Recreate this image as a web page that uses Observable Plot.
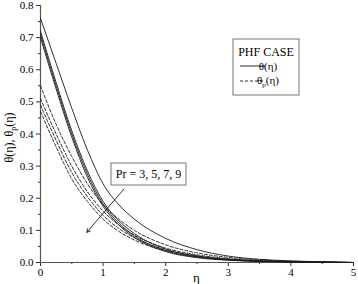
<!DOCTYPE html>
<html><head><meta charset="utf-8">
<script src="https://cdn.jsdelivr.net/npm/d3@7"></script>
<script src="https://cdn.jsdelivr.net/npm/@observablehq/plot@0.6"></script>
<style>
body{margin:0;background:#fff}
#chart svg, #chart svg text, #chart svg tspan{font-family:'Liberation Serif','Tinos','Times New Roman','DejaVu Serif',serif !important}
</style>
</head><body><div id="chart"></div>
<script>
// ---- data ----
const eta = [0, 0.25, 0.5, 0.75, 1, 1.25, 1.5, 2, 2.5, 3, 3.5, 4, 4.5, 5];
const Pr = [3, 5, 7, 9];
// theta(eta), solid lines
const theta_Pr3 = [0.76, 0.62, 0.48, 0.35, 0.245, 0.18, 0.135, 0.075, 0.04, 0.02, 0.01, 0.005, 0.002, 0];
const theta_Pr5 = [0.72, 0.56, 0.41, 0.285, 0.19, 0.13, 0.09, 0.042, 0.02, 0.01, 0.005, 0.002, 0.001, 0];
const theta_Pr7 = [0.71, 0.55, 0.40, 0.275, 0.182, 0.123, 0.083, 0.037, 0.017, 0.008, 0.004, 0.002, 0.001, 0];
const theta_Pr9 = [0.70, 0.54, 0.39, 0.265, 0.175, 0.117, 0.078, 0.034, 0.015, 0.007, 0.003, 0.001, 0, 0];
// theta_p(eta), dashed lines
const thetaP_Pr3 = [0.55, 0.43, 0.33, 0.245, 0.18, 0.135, 0.10, 0.055, 0.03, 0.016, 0.008, 0.004, 0.002, 0];
const thetaP_Pr5 = [0.51, 0.40, 0.30, 0.22, 0.16, 0.117, 0.085, 0.045, 0.024, 0.012, 0.006, 0.003, 0.001, 0];
const thetaP_Pr7 = [0.49, 0.38, 0.28, 0.205, 0.147, 0.106, 0.077, 0.04, 0.021, 0.01, 0.005, 0.002, 0.001, 0];
const thetaP_Pr9 = [0.47, 0.36, 0.26, 0.19, 0.135, 0.097, 0.07, 0.036, 0.018, 0.009, 0.004, 0.002, 0.001, 0];

const xTicks = [0, 1, 2, 3, 4, 5];
const xMinorTicks = [0.5, 1.5, 2.5, 3.5, 4.5];
const yTicks = [0, 0.1, 0.2, 0.3, 0.4, 0.5, 0.6, 0.7, 0.8];
const yMinorTicks = [0.05, 0.15, 0.25, 0.35, 0.45, 0.55, 0.65, 0.75];

const annotationText = "Pr = 3, 5, 7, 9";
const legendTitle = "PHF CASE";
// annotation arrow, in data units (eta, theta)
const arrowFrom = [1.33, 0.228];
const arrowTo = [0.74, 0.094];

// ---- build tables ----
const solidSeries = [theta_Pr3, theta_Pr5, theta_Pr7, theta_Pr9];
const dashSeries = [thetaP_Pr3, thetaP_Pr5, thetaP_Pr7, thetaP_Pr9];
const solidRows = [], dashRows = [];
solidSeries.forEach((s, k) => s.forEach((v, i) => solidRows.push({eta: eta[i], v, Pr: Pr[k]})));
dashSeries.forEach((s, k) => s.forEach((v, i) => dashRows.push({eta: eta[i], v, Pr: Pr[k]})));

const ink = "#1a1a1a";
const serif = "'Liberation Serif', 'Times New Roman', serif";
const plot = Plot.plot({
  width: 358, height: 284,
  marginLeft: 40, marginRight: 5, marginTop: 5, marginBottom: 22,
  style: {fontSize: "11px", color: "#000", background: "#fff", overflow: "visible"},
  x: {domain: [0, 5]},
  y: {domain: [0, 0.8]},
  marks: [
    Plot.axisY(yMinorTicks, {tickSize: 2, tickFormat: () => "", label: null, stroke: "#333"}),
    Plot.axisY(yTicks, {tickSize: 4, tickPadding: 3, tickFormat: d3.format(".1f"), label: null, fontSize: 11, stroke: "#333"}),
    Plot.axisX(xMinorTicks, {tickSize: 2, tickFormat: () => "", label: null, stroke: "#333"}),
    Plot.axisX(xTicks, {tickSize: 4, tickPadding: 2, tickFormat: d3.format("d"), label: null, fontSize: 11, stroke: "#333"}),
    Plot.ruleX([0], {stroke: "#555", strokeWidth: 1.2}),
    Plot.ruleY([0], {stroke: "#555", strokeWidth: 1.2}),
    Plot.line(dashRows, {x: "eta", y: "v", z: "Pr", stroke: ink, strokeWidth: 0.9, strokeDasharray: "3,2", curve: "monotone-x"}),
    Plot.line(solidRows, {x: "eta", y: "v", z: "Pr", stroke: ink, strokeWidth: 0.9, curve: "monotone-x"}),
    Plot.arrow([{x1: arrowFrom[0], y1: arrowFrom[1], x2: arrowTo[0], y2: arrowTo[1]}],
      {x1: "x1", y1: "y1", x2: "x2", y2: "y2", stroke: ink, strokeWidth: 0.9, headLength: 6, bend: 0})
  ]
});
document.getElementById("chart").appendChild(plot);

// ---- labels, annotation box, legend ----
const svg = d3.select(plot);
const sx = plot.scale("x"), sy = plot.scale("y");
const txt = (sel) => sel.attr("fill", "#000");

// y axis title
const yt = txt(svg.append("text"))
  .attr("transform", `translate(13,${(sy.apply(0) + sy.apply(0.8)) / 2 + 4}) rotate(-90)`)
  .attr("text-anchor", "middle").attr("font-size", 12);
yt.append("tspan").text("θ(η), θ");
yt.append("tspan").attr("font-size", 8).attr("dy", 3).text("p");
yt.append("tspan").attr("dy", -3).text("(η)");

// x axis title
txt(svg.append("text")).attr("x", sx.apply(2.5)).attr("y", 282)
  .attr("text-anchor", "middle").attr("font-size", 13).text("η");

// Pr annotation box
const bx = 111, by = 163, bw = 75, bh = 22;
svg.append("rect").attr("x", bx).attr("y", by).attr("width", bw).attr("height", bh)
  .attr("fill", "#fff").attr("stroke", "#777").attr("stroke-width", 1);
txt(svg.append("text")).attr("x", bx + bw / 2).attr("y", by + bh / 2 + 4)
  .attr("text-anchor", "middle").attr("font-size", 12).text(annotationText);

// legend
const lx = 233, ly = 39, lw = 66, lh = 56;
svg.append("rect").attr("x", lx).attr("y", ly).attr("width", lw).attr("height", lh)
  .attr("fill", "#fff").attr("stroke", "#777").attr("stroke-width", 1);
txt(svg.append("text")).attr("x", lx + lw / 2).attr("y", ly + 17)
  .attr("text-anchor", "middle").attr("font-size", 12).text(legendTitle);
svg.append("line").attr("x1", lx + 7).attr("x2", lx + 32).attr("y1", ly + 27).attr("y2", ly + 27)
  .attr("stroke", ink).attr("stroke-width", 0.9);
const t1 = txt(svg.append("text")).attr("x", lx + 35).attr("y", ly + 31).attr("font-size", 11);
t1.append("tspan").text("θ(η)");
svg.append("line").attr("x1", lx + 7).attr("x2", lx + 32).attr("y1", ly + 42).attr("y2", ly + 42)
  .attr("stroke", ink).attr("stroke-width", 0.9).attr("stroke-dasharray", "3,2");
const t2 = txt(svg.append("text")).attr("x", lx + 35).attr("y", ly + 45).attr("font-size", 11);
t2.append("tspan").text("θ");
t2.append("tspan").attr("font-size", 7).attr("dy", 3).text("p");
t2.append("tspan").attr("dy", -3).text("(η)");
</script>
</body></html>
